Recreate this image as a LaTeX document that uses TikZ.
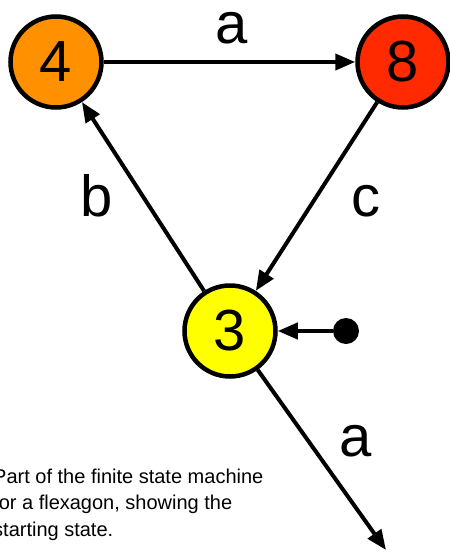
\documentclass[tikz,border=0pt]{standalone}
\usepackage{fontspec}
\setmainfont{Liberation Sans}
\usetikzlibrary{arrows.meta}
\definecolor{corange}{HTML}{FF9100}
\definecolor{cred}{HTML}{FF2A00}
\definecolor{cyellow}{HTML}{FFFF00}
\tikzset{
  state/.style={circle,draw=black,line width=4.5pt,minimum size=91pt,inner sep=0pt,font=\fontsize{58}{58}\selectfont},
  trans/.style={line width=4pt,-{Triangle[length=20pt,width=16pt]}},
  lbl/.style={font=\fontsize{58}{58}\selectfont,inner sep=0pt,anchor=base},
}
\begin{document}
\begin{tikzpicture}[x=1pt,y=1pt]
\useasboundingbox (0,0) rectangle (450,-552);
\clip (0,0) rectangle (450,-552);
\node[state,fill=corange] (s4) at (56,-62) {4};
\node[state,fill=cred] (s8) at (403,-62) {8};
\node[state,fill=cyellow] (s3) at (230,-331) {3};
\node[circle,fill=black,minimum size=26pt,inner sep=0pt] (start) at (346,-331) {};
\coordinate (out) at (386,-550);
\draw[trans] (s4) -- (s8);
\draw[trans] (s8) -- (s3);
\draw[trans] (s3) -- (s4);
\draw[trans] (start) -- (s3);
\draw[trans] (s3) -- (out);
\node[lbl,text height=0.52em,text depth=0pt] (la) at (232,-43) {a};
\node[lbl] (lb) at (97,-216) {b};
\node[lbl] (lc) at (366,-216) {c};
\node[lbl,text height=0.52em,text depth=0pt] (la2) at (356,-456) {a};
\node[anchor=base west,align=left,inner sep=0pt,font=\fontsize{20}{26.5}\selectfont] (cap) at (-7,-536) {Part of the finite state machine\\for a flexagon, showing the\\starting state.};
\end{tikzpicture}
\end{document}
